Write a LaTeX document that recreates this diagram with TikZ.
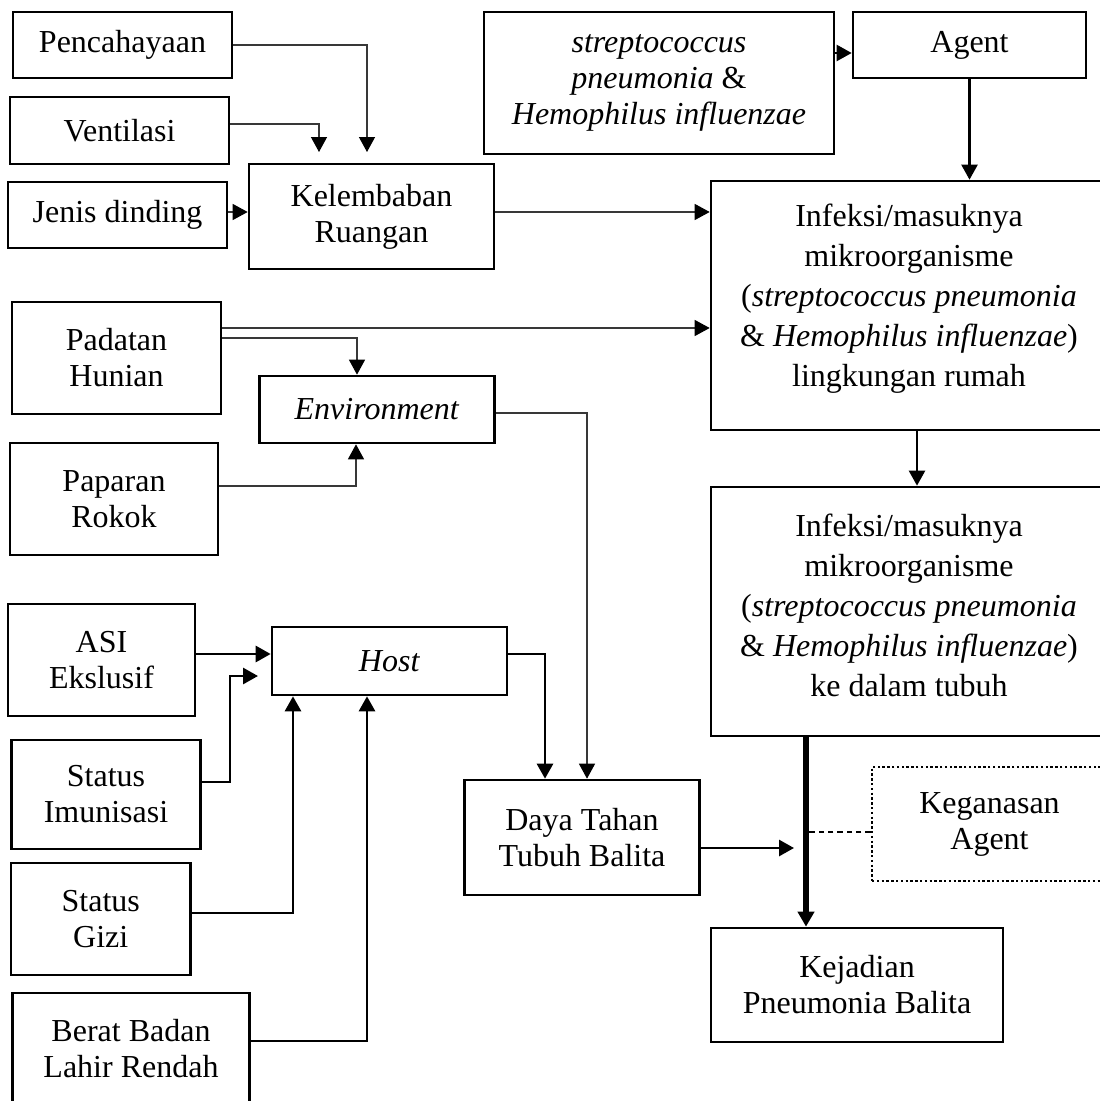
\documentclass[tikz,border=0pt]{standalone}
\usepackage{fontspec}
\setmainfont{Liberation Serif}
\usetikzlibrary{arrows.meta}
\newcommand{\pxu}{0.375pt}

\begin{document}
\begin{tikzpicture}[
  x=0.375pt, y=-0.375pt,
  box/.style={draw, line width=1pt, align=center, inner sep=0pt, font=\fontsize{12}{13.5}\selectfont},
  tall/.style={font=\fontsize{12}{15}\selectfont},
  sz/.style 2 args={minimum width=#1*\pxu, minimum height=#2*\pxu},
  tip/.style={-{Triangle[length=5.6pt, width=6pt, color=black]}},
  arrowg/.style={tip, line width=0.4pt, draw=black!78},
  arrowm/.style={tip, line width=0.8pt},
  arrowk/.style={tip, line width=1pt},
  arrowx/.style={tip, line width=1.9pt},
  dashline/.style={line width=0.75pt, dash pattern=on 2pt off 1.5pt},
]
\useasboundingbox (0,0) rectangle (1099,1101);

% --- environment factors ---
\node[box, sz={219}{66}] (penc) at (122.5,45) {Pencahayaan};
\node[box, sz={219}{67}] (vent) at (119.5,130.5) {Ventilasi};
\node[box, sz={219}{66}] (jenis) at (117.5,215) {Jenis dinding};
\node[box, sz={245}{105}] (kelem) at (371.5,216.5) {Kelembaban\\Ruangan};
\node[box, sz={209}{112}] (padat) at (116.5,358) {Padatan\\Hunian};
\node[box, sz={235}{67}] (env) at (377,409.5) {\textit{Environment}};
\node[box, sz={208}{112}] (papar) at (114,499) {Paparan\\Rokok};

% --- agent ---
\node[box, sz={350}{142}] (strep) at (659,83) {\textit{streptococcus}\\\textit{pneumonia} \&\\\textit{Hemophilus influenzae}};
\node[box, sz={233}{66}] (agent) at (969.5,45) {Agent};
\node[box, tall, sz={396}{249}, text depth=8pt] (inf1) at (909,305.5) {Infeksi/masuknya\\mikroorganisme\\(\textit{streptococcus pneumonia}\\\& \textit{Hemophilus influenzae})\\lingkungan rumah};
\node[box, tall, sz={396}{249}, text depth=5pt] (inf2) at (909,611.5) {Infeksi/masuknya\\mikroorganisme\\(\textit{streptococcus pneumonia}\\\& \textit{Hemophilus influenzae})\\ke dalam tubuh};

% --- host factors ---
\node[box, sz={187}{112}] (asi) at (101.5,660) {ASI\\Ekslusif};
\node[box, sz={235}{68}] (host) at (389.5,661) {\textit{Host}};
\node[box, sz={189}{109}] (imun) at (106,794.5) {Status\\Imunisasi};
\node[box, sz={179.5}{112}] (gizi) at (100.75,919) {Status\\Gizi};
\node[box, sz={237}{112}] (berat) at (131,1049) {Berat Badan\\Lahir Rendah};
\node[box, sz={235}{115}] (daya) at (582,837.5) {Daya Tahan\\Tubuh Balita};
\node[box, sz={235}{114}, dash pattern=on 0.9pt off 0.9pt] (kegan) at (989.5,824) {Keganasan\\Agent};
\node[box, sz={292}{114}] (kejad) at (857,985) {Kejadian\\Pneumonia Balita};

% --- connectors ---
\draw[arrowg, shorten >=4pt] (penc.east) -| ([xshift=-4.5*\pxu]kelem.north);
\draw[arrowg, shorten >=4pt] ([yshift=6.5*\pxu]vent.east) -| ([xshift=-52.5*\pxu]kelem.north);
\draw[arrowg] ([yshift=3*\pxu]jenis.east) -- ([yshift=3*\pxu]jenis.east -| kelem.west);
\draw[arrowg] ([yshift=4.5*\pxu]kelem.east) -- ([yshift=4.5*\pxu]kelem.east -| inf1.west);
\draw[arrowg] ([yshift=30*\pxu]padat.east) -- ([yshift=30*\pxu]padat.east -| inf1.west);
\draw[arrowg] ([yshift=20*\pxu]padat.east) -| ([xshift=-20*\pxu]env.north);
\draw[arrowg] ([yshift=13*\pxu]papar.east) -| ([xshift=-21*\pxu]env.south);
\draw[arrowg] ([yshift=-3.5*\pxu]env.east) -| ([xshift=5*\pxu]daya.north);

\draw[arrowm] ([yshift=-8*\pxu]agent.west -| strep.east) -- ([yshift=-8*\pxu]agent.west);
\draw[arrowm] (agent.south) -- (agent.south |- inf1.north);
\draw[arrowm] ([xshift=8*\pxu]inf1.south) -- ([xshift=8*\pxu]inf2.north);

\coordinate (imunend) at (258,676);
\draw[arrowk] ([yshift=6*\pxu]asi.east) -- ([yshift=6*\pxu]asi.east -| host.west);
\draw[arrowk] ([yshift=12.5*\pxu]imun.east) -| ([xshift=-28*\pxu]imunend) -- (imunend);
\draw[arrowk] ([yshift=6*\pxu]gizi.east) -| ([xshift=-96.5*\pxu]host.south);
\draw[arrowk] ([yshift=8*\pxu]berat.east) -| ([xshift=-22.5*\pxu]host.south);
\draw[arrowk] ([yshift=7*\pxu]host.east) -| ([xshift=-37*\pxu]daya.north);

% --- outcome ---
\coordinate (trunk) at ([xshift=-103*\pxu]inf2.south);
\coordinate (joint) at (794,848);
\draw[arrowx] (trunk) -- (trunk |- kejad.north);
\draw[arrowk] ([yshift=-10.5*\pxu]daya.east) -- (joint);
\draw[dashline] ([yshift=-8*\pxu]kegan.west) -- ([yshift=-8*\pxu]kegan.west -| trunk);
\end{tikzpicture}
\end{document}
